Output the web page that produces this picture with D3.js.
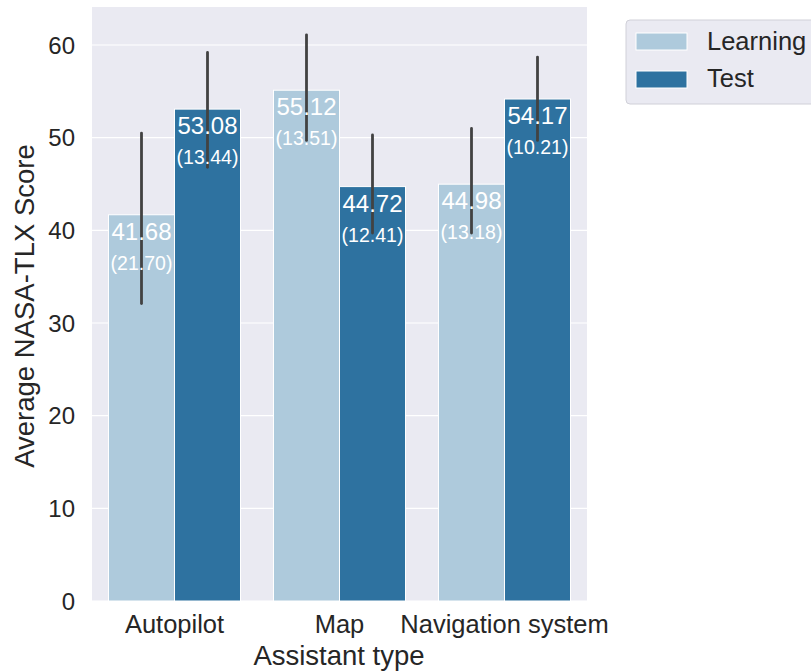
<!DOCTYPE html>
<html>
<head>
<meta charset="utf-8">
<script src="https://cdn.jsdelivr.net/npm/d3@7"></script>
<style>
  body { margin: 0; background: #fff; }
  text { font-family: "Liberation Sans", Arial, sans-serif; fill: #262626; }
</style>
</head>
<body>
<svg></svg>
<script>
// data
const categories = ['Autopilot', 'Map', 'Navigation system'];
const phases = ['Learning', 'Test'];
const means = {Learning: [41.68, 55.12, 44.98], Test: [53.08, 44.72, 54.17]};
const sds = {Learning: [21.70, 13.51, 13.18], Test: [13.44, 12.41, 10.21]};
const ciLow = {Learning: [32.1, 49.7, 39.7], Test: [46.8, 39.7, 49.7]};
const ciHigh = {Learning: [50.5, 61.1, 51.0], Test: [59.2, 50.3, 58.7]};
const yTicks = [0, 10, 20, 30, 40, 50, 60];

const size = {w: 811, h: 671};
const margin = {t: 7, r: 224, b: 70, l: 92};
const colors = {Learning: '#aecadc', Test: '#2e72a0'};

const svg = d3.select('svg').attr('width', size.w).attr('height', size.h);

const x = d3.scaleBand().domain(categories)
    .range([margin.l, size.w - margin.r]).paddingInner(0).paddingOuter(0);
const xInner = d3.scaleBand().domain(phases)
    .range([0, x.bandwidth() * 0.8]);
const y = d3.scaleLinear().domain([0, 64.1]).range([size.h - margin.b, margin.t]);

// plot background
svg.append('rect')
    .attr('x', margin.l).attr('y', margin.t)
    .attr('width', size.w - margin.r - margin.l)
    .attr('height', size.h - margin.b - margin.t)
    .attr('fill', '#eaeaf2');

// grid lines
svg.append('g').selectAll('line')
    .data(yTicks)
    .join('line')
    .attr('x1', margin.l).attr('x2', size.w - margin.r)
    .attr('y1', d => y(d)).attr('y2', d => y(d))
    .attr('stroke', '#fff').attr('stroke-width', 1.2);

// flatten rows
let rows = [];
phases.forEach(p => {
    categories.forEach((c, i) => {
        rows.push({cat: c, phase: p, mean: means[p][i], sd: sds[p][i], lo: ciLow[p][i], hi: ciHigh[p][i]});
    });
});

const barX = d => x(d.cat) + x.bandwidth() * 0.1 + xInner(d.phase);

// bars
svg.append('g').selectAll('rect')
    .data(rows)
    .join('rect')
    .attr('x', barX)
    .attr('y', d => y(d.mean))
    .attr('width', xInner.bandwidth())
    .attr('height', d => y(0) - y(d.mean))
    .attr('fill', d => colors[d.phase])
    .attr('stroke', '#fff').attr('stroke-width', 1);

// error bars
svg.append('g').selectAll('line')
    .data(rows)
    .join('line')
    .attr('x1', d => barX(d) + xInner.bandwidth() / 2)
    .attr('x2', d => barX(d) + xInner.bandwidth() / 2)
    .attr('y1', d => y(d.lo)).attr('y2', d => y(d.hi))
    .attr('stroke', '#424242').attr('stroke-width', 2.8)
    .attr('stroke-linecap', 'round');

// value labels (drawn over the error bars)
const labels = svg.append('g');
labels.selectAll('text.mean')
    .data(rows)
    .join('text')
    .classed('mean', true)
    .attr('x', d => barX(d) + xInner.bandwidth() / 2)
    .attr('y', d => y(d.mean) + 25)
    .attr('text-anchor', 'middle')
    .style('fill', '#fff')
    .style('font-size', '24px')
    .text(d => d.mean.toFixed(2));
labels.selectAll('text.sd')
    .data(rows)
    .join('text')
    .classed('sd', true)
    .attr('x', d => barX(d) + xInner.bandwidth() / 2)
    .attr('y', d => y(d.mean) + 55)
    .attr('text-anchor', 'middle')
    .style('fill', '#fff')
    .style('font-size', '19.5px')
    .text(d => '(' + d.sd.toFixed(2) + ')');

// y axis ticks
svg.append('g').selectAll('text')
    .data(yTicks)
    .join('text')
    .attr('x', margin.l - 17)
    .attr('y', d => y(d))
    .attr('dy', '0.36em')
    .attr('text-anchor', 'end')
    .style('font-size', '24px')
    .text(d => d);

// x axis ticks
svg.append('g').selectAll('text')
    .data(categories)
    .join('text')
    .attr('x', d => x(d) + x.bandwidth() / 2)
    .attr('y', 633)
    .attr('text-anchor', 'middle')
    .style('font-size', '25.5px')
    .text(d => d);

// axis titles
svg.append('text')
    .attr('x', 339)
    .attr('y', 665)
    .attr('text-anchor', 'middle')
    .style('font-size', '27.5px')
    .text('Assistant type');
svg.append('text')
    .attr('transform', 'translate(34,306) rotate(-90)')
    .attr('text-anchor', 'middle')
    .style('font-size', '27.5px')
    .text('Average NASA-TLX Score');

// legend
const legend = svg.append('g').attr('transform', 'translate(626,20)');
legend.append('rect')
    .attr('x', 0).attr('y', 0)
    .attr('width', 200).attr('height', 84)
    .attr('rx', 4)
    .attr('fill', '#eaeaf2').attr('stroke', '#d0d0d8');
phases.forEach((p, i) => {
    legend.append('rect')
        .attr('x', 10).attr('y', 13 + i * 38)
        .attr('width', 51).attr('height', 17)
        .attr('fill', colors[p]).attr('stroke', '#fff');
    legend.append('text')
        .attr('x', 81).attr('y', 30 + i * 37)
        .style('font-size', '25.5px')
        .text(p);
});
</script>
</body>
</html>
